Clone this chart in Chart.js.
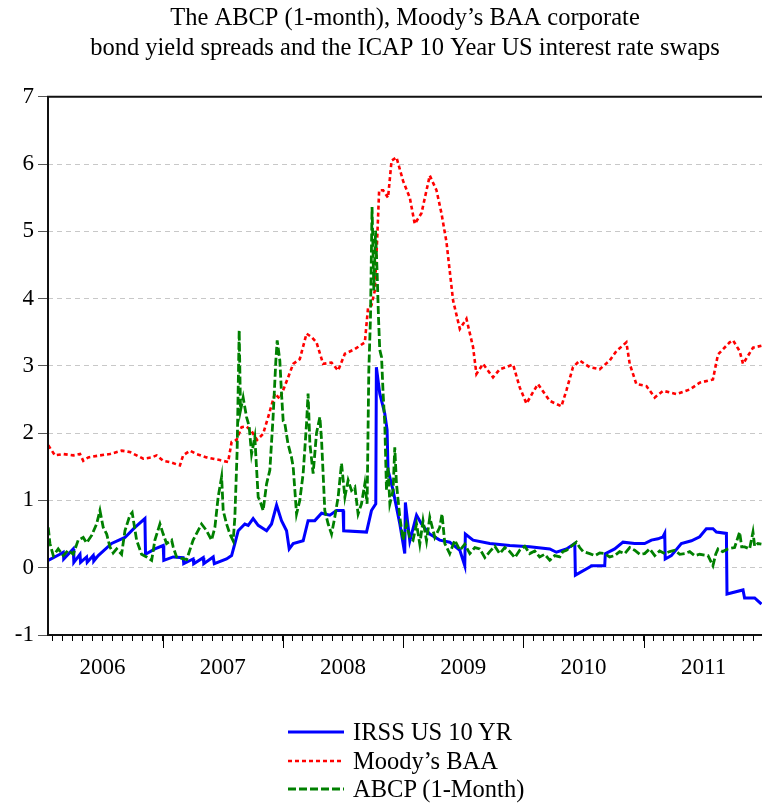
<!DOCTYPE html>
<html>
<head>
<meta charset="utf-8">
<script src="https://cdn.jsdelivr.net/npm/chart.js@4.4.1/dist/chart.umd.min.js"></script>
<style>
html,body{margin:0;padding:0;background:#fff;}
#wrap{position:relative;width:762px;height:804px;overflow:hidden;}
#c{position:absolute;left:0;top:0;}
#legend{position:absolute;left:288px;top:718px;font-family:"Liberation Serif","Times New Roman",serif;font-size:24.5px;color:#000;}
.item{display:flex;align-items:center;height:28.5px;white-space:nowrap;}
.item canvas{margin-right:9px;}
</style>
</head>
<body>
<div id="wrap"><canvas id="c" width="762" height="804"></canvas><div id="legend"></div></div>
<script>
// ---------------- data (decimal years, percent) ----------------
const titleLines = ["The ABCP (1-month), Moody\u2019s BAA corporate", "bond yield spreads and the ICAP 10 Year US interest rate swaps"];
const seriesNames = ["IRSS US 10 YR", "Moody\u2019s BAA", "ABCP (1-Month)"];
const yearLabels = ["2006", "2007", "2008", "2009", "2010", "2011"];
const yTickValues = [-1, 0, 1, 2, 3, 4, 5, 6, 7];
const xMin = 2006.047, xMax = 2011.985;

const irssT = [2006.049,2006.146,2006.174,2006.178,2006.257,2006.262,2006.313,2006.318,2006.368,2006.373,2006.423,2006.428,2006.465,2006.576,2006.687,2006.770,2006.853,2006.858,2006.936,2007.005,2007.010,2007.088,2007.171,2007.176,2007.254,2007.259,2007.338,2007.343,2007.421,2007.430,2007.532,2007.574,2007.601,2007.629,2007.684,2007.712,2007.753,2007.795,2007.865,2007.906,2007.948,2007.989,2008.031,2008.053,2008.086,2008.169,2008.210,2008.266,2008.322,2008.391,2008.447,2008.501,2008.506,2008.696,2008.737,2008.773,2008.778,2008.806,2008.848,2008.867,2008.875,2008.917,2008.973,2009.014,2009.019,2009.056,2009.112,2009.153,2009.222,2009.305,2009.388,2009.472,2009.513,2009.518,2009.582,2009.721,2009.887,2010.053,2010.220,2010.275,2010.359,2010.428,2010.433,2010.552,2010.566,2010.677,2010.682,2010.760,2010.829,2010.926,2011.009,2011.065,2011.120,2011.162,2011.176,2011.180,2011.231,2011.314,2011.398,2011.467,2011.522,2011.577,2011.606,2011.689,2011.694,2011.827,2011.840,2011.924,2011.980];
const irssV = [0.11,0.20,0.23,0.13,0.28,0.08,0.20,0.08,0.16,0.08,0.18,0.10,0.18,0.36,0.45,0.60,0.73,0.20,0.28,0.33,0.11,0.16,0.15,0.06,0.13,0.06,0.15,0.06,0.16,0.06,0.13,0.18,0.36,0.55,0.65,0.63,0.73,0.63,0.55,0.65,0.93,0.70,0.55,0.28,0.36,0.40,0.70,0.70,0.81,0.78,0.85,0.85,0.55,0.53,0.85,0.95,2.98,2.59,2.29,2.05,1.45,1.15,0.65,0.21,0.97,0.40,0.78,0.65,0.50,0.41,0.38,0.26,0.03,0.50,0.41,0.36,0.33,0.31,0.28,0.23,0.28,0.36,-0.11,0.01,0.03,0.03,0.21,0.28,0.38,0.36,0.36,0.41,0.43,0.46,0.51,0.13,0.18,0.36,0.40,0.46,0.58,0.58,0.53,0.51,-0.39,-0.33,-0.45,-0.45,-0.54];

const baaT = [2006.049,2006.105,2006.174,2006.257,2006.313,2006.340,2006.382,2006.479,2006.562,2006.659,2006.728,2006.784,2006.839,2006.909,2006.950,2007.005,2007.061,2007.144,2007.171,2007.227,2007.283,2007.366,2007.476,2007.545,2007.574,2007.615,2007.657,2007.698,2007.740,2007.786,2007.836,2007.878,2007.934,2007.975,2008.044,2008.086,2008.141,2008.197,2008.239,2008.280,2008.335,2008.405,2008.460,2008.516,2008.599,2008.682,2008.709,2008.737,2008.765,2008.784,2008.801,2008.834,2008.875,2008.904,2008.945,2009.000,2009.056,2009.097,2009.153,2009.222,2009.278,2009.319,2009.361,2009.416,2009.472,2009.527,2009.582,2009.610,2009.665,2009.748,2009.804,2009.915,2009.970,2010.026,2010.081,2010.122,2010.220,2010.317,2010.359,2010.413,2010.469,2010.552,2010.635,2010.718,2010.774,2010.857,2010.885,2010.940,2011.024,2011.093,2011.162,2011.273,2011.384,2011.467,2011.577,2011.619,2011.716,2011.744,2011.799,2011.827,2011.910,2011.980];
const baaV = [1.82,1.67,1.69,1.67,1.69,1.59,1.64,1.67,1.69,1.74,1.72,1.67,1.62,1.64,1.67,1.59,1.57,1.52,1.67,1.74,1.69,1.64,1.60,1.57,1.87,1.90,2.09,2.10,2.03,1.90,1.99,2.24,2.59,2.51,2.83,3.03,3.10,3.48,3.43,3.35,3.03,3.05,2.93,3.18,3.25,3.35,3.87,3.90,4.12,4.86,5.61,5.61,5.50,6.05,6.10,5.75,5.50,5.11,5.27,5.83,5.61,5.27,4.84,3.97,3.55,3.70,3.28,2.88,3.03,2.83,2.95,3.02,2.68,2.44,2.61,2.73,2.48,2.40,2.64,2.98,3.08,2.98,2.95,3.08,3.22,3.35,3.03,2.73,2.70,2.53,2.63,2.58,2.65,2.75,2.80,3.17,3.35,3.38,3.22,3.03,3.27,3.30];

const abcpT = [2006.049,2006.063,2006.091,2006.132,2006.174,2006.215,2006.257,2006.298,2006.340,2006.368,
2006.410,2006.451,2006.479,2006.506,2006.535,2006.562,2006.589,2006.618,2006.659,2006.687,
2006.728,2006.747,2006.784,2006.825,2006.867,2006.909,2006.936,2006.978,2007.005,2007.033,
2007.075,2007.088,2007.116,2007.200,2007.254,2007.324,2007.366,2007.407,2007.435,2007.462,
2007.491,2007.504,2007.532,2007.560,2007.587,2007.601,2007.620,2007.637,2007.648,2007.670,
2007.698,2007.720,2007.740,2007.767,2007.795,2007.809,2007.836,2007.865,2007.892,2007.919,
2007.942,2007.953,2007.975,2007.989,2008.003,2008.017,2008.042,2008.072,2008.086,2008.114,
2008.141,2008.169,2008.197,2008.210,2008.225,2008.252,2008.280,2008.308,2008.322,2008.335,
2008.349,2008.377,2008.405,2008.432,2008.460,2008.488,2008.516,2008.543,2008.571,2008.599,
2008.626,2008.654,2008.682,2008.701,2008.715,2008.729,2008.742,2008.757,2008.771,2008.784,
2008.796,2008.806,2008.821,2008.834,2008.848,2008.862,2008.875,2008.890,2008.917,2008.931,
2008.945,2008.973,2009.000,2009.028,2009.056,2009.083,2009.112,2009.139,2009.166,2009.195,
2009.222,2009.264,2009.305,2009.324,2009.347,2009.388,2009.430,2009.472,2009.513,2009.555,
2009.597,2009.638,2009.680,2009.721,2009.763,2009.804,2009.846,2009.887,2009.929,2009.970,
2010.012,2010.053,2010.095,2010.136,2010.178,2010.220,2010.261,2010.303,2010.328,2010.359,
2010.386,2010.442,2010.469,2010.497,2010.552,2010.594,2010.635,2010.677,2010.718,2010.760,
2010.801,2010.843,2010.885,2010.926,2010.968,2011.009,2011.051,2011.093,2011.134,2011.176,
2011.217,2011.259,2011.301,2011.342,2011.384,2011.425,2011.467,2011.536,2011.577,2011.600,
2011.619,2011.658,2011.702,2011.757,2011.799,2011.816,2011.841,2011.882,2011.910,2011.924,
2011.951,2011.980];
const abcpV = [0.60,0.36,0.18,0.28,0.18,0.26,0.20,0.41,0.45,0.37,
0.48,0.65,0.85,0.60,0.50,0.31,0.22,0.28,0.20,0.55,
0.78,0.82,0.41,0.20,0.16,0.11,0.41,0.65,0.50,0.36,
0.41,0.31,0.16,0.12,0.41,0.65,0.55,0.41,0.60,1.05,
1.35,0.85,0.65,0.50,0.40,0.75,1.74,3.53,2.34,2.53,
2.24,2.10,1.69,1.94,1.05,1.00,0.85,1.25,1.45,2.24,
3.08,3.38,3.08,2.59,2.18,2.14,1.85,1.64,1.50,0.80,
1.00,1.40,2.14,2.59,1.84,1.40,2.00,2.24,1.90,1.40,
0.85,0.65,0.50,0.75,1.05,1.55,1.05,1.30,1.15,1.20,
0.80,0.95,1.25,0.95,2.93,3.72,5.36,4.12,5.01,4.40,
3.70,3.24,3.13,2.59,2.14,1.15,1.50,0.95,1.15,1.79,
1.25,0.75,0.41,0.65,0.45,0.41,0.65,0.35,0.70,0.40,
0.75,0.45,0.60,0.80,0.36,0.21,0.41,0.26,0.35,0.21,
0.30,0.28,0.15,0.24,0.32,0.21,0.30,0.24,0.15,0.26,
0.32,0.21,0.25,0.16,0.20,0.11,0.18,0.16,0.24,0.26,
0.30,0.38,0.30,0.24,0.21,0.18,0.22,0.21,0.16,0.18,
0.24,0.21,0.30,0.26,0.20,0.21,0.28,0.18,0.25,0.21,
0.24,0.26,0.20,0.21,0.24,0.18,0.20,0.18,0.03,0.20,
0.28,0.24,0.28,0.30,0.53,0.31,0.31,0.28,0.53,0.32,
0.36,0.35];

// ---------------- build ----------------
function zip(ts, vs) {
  if (ts.length !== vs.length) console.error('length mismatch', ts.length, vs.length);
  return ts.map((t, i) => ({x: t, y: vs[i]}));
}
const FONT = "'Liberation Serif','Times New Roman',serif";

const borderPlugin = {
  id: 'frame',
  afterDraw(chart) {
    const {ctx, chartArea: a} = chart;
    const xs = chart.scales.x;
    ctx.save();
    // long year-boundary ticks
    ctx.strokeStyle = '#000';
    ctx.lineWidth = 1;
    yearLabels.forEach(y => {
      const v = Number(y);
      if (v > xMin && v < xMax) {
        const px = Math.round(xs.getPixelForValue(v)) + 0.5;
        ctx.beginPath();
        ctx.moveTo(px, a.bottom);
        ctx.lineTo(px, a.bottom + 13);
        ctx.stroke();
      }
    });
    // frame: left, top, bottom
    ctx.lineWidth = 2;
    ctx.strokeStyle = '#111';
    ctx.beginPath();
    ctx.moveTo(a.right + 2, a.top);
    ctx.lineTo(a.left, a.top);
    ctx.lineTo(a.left, a.bottom);
    ctx.lineTo(a.right + 2, a.bottom);
    ctx.stroke();
    ctx.restore();
  }
};

const chart = new Chart(document.getElementById('c'), {
  type: 'line',
  data: {
    datasets: [
      {label: seriesNames[0], data: zip(irssT, irssV), borderColor: '#0000ff', borderWidth: 3, borderDash: [], pointRadius: 0, tension: 0, order: 2},
      {label: seriesNames[1], data: zip(baaT, baaV), borderColor: '#ff0000', borderWidth: 2.6, borderDash: [4, 3], pointRadius: 0, tension: 0, order: 1},
      {label: seriesNames[2], data: zip(abcpT, abcpV), borderColor: '#008000', borderWidth: 2.8, borderDash: [8, 3], pointRadius: 0, tension: 0, order: 0}
    ]
  },
  options: {
    responsive: false,
    animation: false,
    events: [],
    layout: {padding: {left: 0, right: 0, top: 0, bottom: 109}},
    plugins: {
      legend: {display: false},
      tooltip: {enabled: false},
      title: {
        display: true,
        text: titleLines,
        fullSize: false,
        color: '#000',
        font: {family: FONT, size: 24.5, weight: 'normal', lineHeight: 1.2},
        padding: {top: 4, bottom: 34}
      }
    },
    scales: {
      x: {
        type: 'linear',
        min: xMin,
        max: xMax,
        afterBuildTicks(scale) {
          const t = [];
          for (let m = Math.ceil(xMin * 12); m <= Math.floor(xMax * 12); m++) t.push({value: m / 12});
          scale.ticks = t;
        },
        afterFit(scale) { scale.height = 60; scale.paddingLeft = 0; scale.paddingRight = 0; },
        ticks: {
          autoSkip: false,
          maxRotation: 0,
          minRotation: 0,
          padding: 13,
          color: '#000',
          font: {family: FONT, size: 23},
          callback(value) {
            const m = Math.round(value * 12);
            if (((m % 12) + 12) % 12 === 6) {
              const y = String(Math.floor(m / 12));
              return yearLabels.includes(y) ? y : '';
            }
            return '';
          }
        },
        grid: {display: true, drawOnChartArea: false, drawTicks: true, tickLength: 6, tickColor: '#000', tickWidth: 1},
        border: {display: false}
      },
      y: {
        type: 'linear',
        min: -1,
        max: 7,
        afterBuildTicks(scale) { scale.ticks = yTickValues.map(v => ({value: v})); },
        afterFit(scale) { scale.width = 48; },
        ticks: {color: '#000', padding: 4, font: {family: FONT, size: 23}},
        grid: {
          color: (c) => (c.tick && (c.tick.value === 7 || c.tick.value === -1)) ? 'rgba(0,0,0,0)' : '#c8c8c8',
          lineWidth: 1,
          drawTicks: true,
          tickLength: 10,
          tickColor: '#555',
          tickWidth: 1
        },
        border: {display: false, dash: [5, 4]}
      }
    }
  },
  plugins: [borderPlugin]
});

// ---------------- HTML legend from datasets ----------------
const legendEl = document.getElementById('legend');
chart.data.datasets.forEach(ds => {
  const row = document.createElement('div');
  row.className = 'item';
  const sw = document.createElement('canvas');
  sw.width = 56; sw.height = 10;
  const g = sw.getContext('2d');
  g.strokeStyle = ds.borderColor;
  g.lineWidth = ds.borderWidth;
  g.setLineDash(ds.borderDash || []);
  g.beginPath(); g.moveTo(0, 5); g.lineTo(56, 5); g.stroke();
  const tx = document.createElement('span');
  tx.textContent = ds.label;
  row.appendChild(sw); row.appendChild(tx);
  legendEl.appendChild(row);
});
</script>
</body>
</html>
